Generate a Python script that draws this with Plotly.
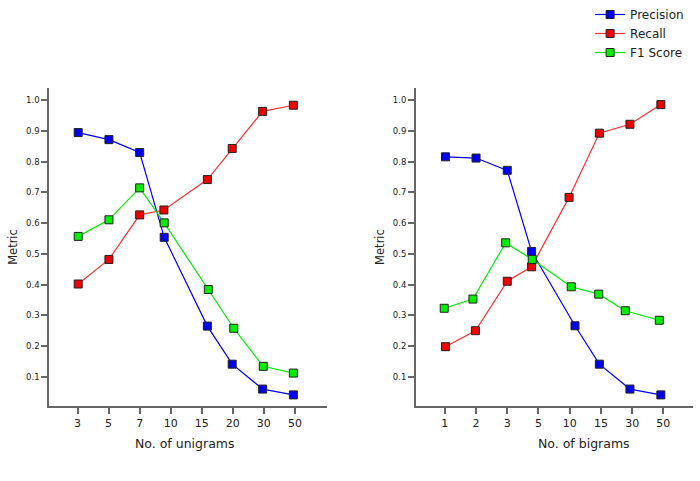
import plotly.graph_objects as go

# ---- data ----
uni_ticks = ["3", "5", "7", "10", "15", "20", "30", "50"]
bi_ticks = ["1", "2", "3", "5", "10", "15", "30", "50"]

# point positions (in tick-index units, as drawn in the reference)
uni_x_prec = [0.02, 1.01, 2.0, 2.79, 4.18, 4.98, 5.96, 6.95]
uni_x_rec = [0.02, 1.01, 2.0, 2.78, 4.18, 4.98, 5.96, 6.95]
uni_x_f1 = [0.02, 1.01, 2.0, 2.79, 4.21, 5.03, 5.98, 6.95]
uni_prec = [0.895, 0.872, 0.830, 0.554, 0.265, 0.141, 0.060, 0.041]
uni_rec = [0.402, 0.482, 0.627, 0.643, 0.742, 0.843, 0.964, 0.984]
uni_f1 = [0.557, 0.611, 0.715, 0.601, 0.384, 0.258, 0.134, 0.112]

bi_x_prec = [0.02, 1.0, 2.0, 2.78, 4.17, 4.95, 5.93, 6.92]
bi_x_rec = [0.02, 0.98, 2.0, 2.78, 3.98, 4.95, 5.93, 6.92]
bi_x_f1 = [-0.02, 0.9, 1.95, 2.8, 4.05, 4.93, 5.78, 6.87]
bi_prec = [0.816, 0.812, 0.772, 0.508, 0.266, 0.141, 0.060, 0.041]
bi_rec = [0.198, 0.250, 0.411, 0.458, 0.684, 0.893, 0.922, 0.986]
bi_f1 = [0.323, 0.353, 0.536, 0.482, 0.393, 0.369, 0.315, 0.284]

series_names = ["Precision", "Recall", "F1 Score"]
line_colors = ["#0000ff", "#ff3030", "#00ee00"]
marker_colors = ["#0000ee", "#ee0000", "#00ee00"]

fig = go.Figure()

panels = [
    ("x", "y", [(uni_x_prec, uni_prec), (uni_x_rec, uni_rec), (uni_x_f1, uni_f1)]),
    ("x2", "y2", [(bi_x_prec, bi_prec), (bi_x_rec, bi_rec), (bi_x_f1, bi_f1)]),
]
for pi, (xa, ya, data) in enumerate(panels):
    for si, (xs, ys) in enumerate(data):
        fig.add_trace(go.Scatter(
            x=xs, y=ys, xaxis=xa, yaxis=ya, mode="lines+markers",
            name=series_names[si], showlegend=(pi == 0),
            line=dict(color=line_colors[si], width=1.2),
            marker=dict(symbol="square", size=8, color=marker_colors[si],
                        line=dict(color="#222222", width=1)),
        ))

axis_common = dict(
    showgrid=False, zeroline=False, showline=True, linecolor="#666666", linewidth=1.5,
    ticks="outside", ticklen=6, tickcolor="#666666", tickwidth=1.5,
)
ytickvals = [0.1, 0.2, 0.3, 0.4, 0.5, 0.6, 0.7, 0.8, 0.9, 1.0]
yticktext = ["0.1", "0.2", "0.3", "0.4", "0.5", "0.6", "0.7", "0.8", "0.9", "1.0"]

fig.update_layout(
    width=700, height=481,
    margin=dict(l=0, r=0, t=0, b=0),
    paper_bgcolor="white", plot_bgcolor="white",
    font=dict(family="DejaVu Sans", color="#222222"),
    xaxis=dict(domain=[0.07, 0.467], range=[-0.92, 8.03], tickvals=list(range(8)),
               ticktext=uni_ticks, tickfont=dict(size=11),
               anchor="y", **axis_common),
    yaxis=dict(domain=[0.156, 0.817], range=[0.005, 1.04], tickvals=ytickvals,
               ticktext=yticktext, tickfont=dict(size=8.5),
               title=dict(text="Metric", font=dict(size=11.5), standoff=6),
               anchor="x", **axis_common),
    xaxis2=dict(domain=[0.594, 0.99], range=[-0.93, 7.95], tickvals=list(range(8)),
                ticktext=bi_ticks, tickfont=dict(size=11),
                anchor="y2", **axis_common),
    yaxis2=dict(domain=[0.156, 0.817], range=[0.005, 1.04], tickvals=ytickvals,
                ticktext=yticktext, tickfont=dict(size=8.5),
                title=dict(text="Metric", font=dict(size=11.5), standoff=6),
                anchor="x2", **axis_common),
    legend=dict(x=0.843, y=1.0, xanchor="left", yanchor="top",
                font=dict(size=12), bgcolor="rgba(0,0,0,0)",
                tracegroupgap=0, itemwidth=30),
    annotations=[
        dict(text="No. of unigrams", x=0.264, y=0.079, xref="paper", yref="paper",
             xanchor="center", yanchor="middle", showarrow=False, font=dict(size=12.5)),
        dict(text="No. of bigrams", x=0.834, y=0.079, xref="paper", yref="paper",
             xanchor="center", yanchor="middle", showarrow=False, font=dict(size=12.5)),
    ],
)

fig.write_html("out.html")
